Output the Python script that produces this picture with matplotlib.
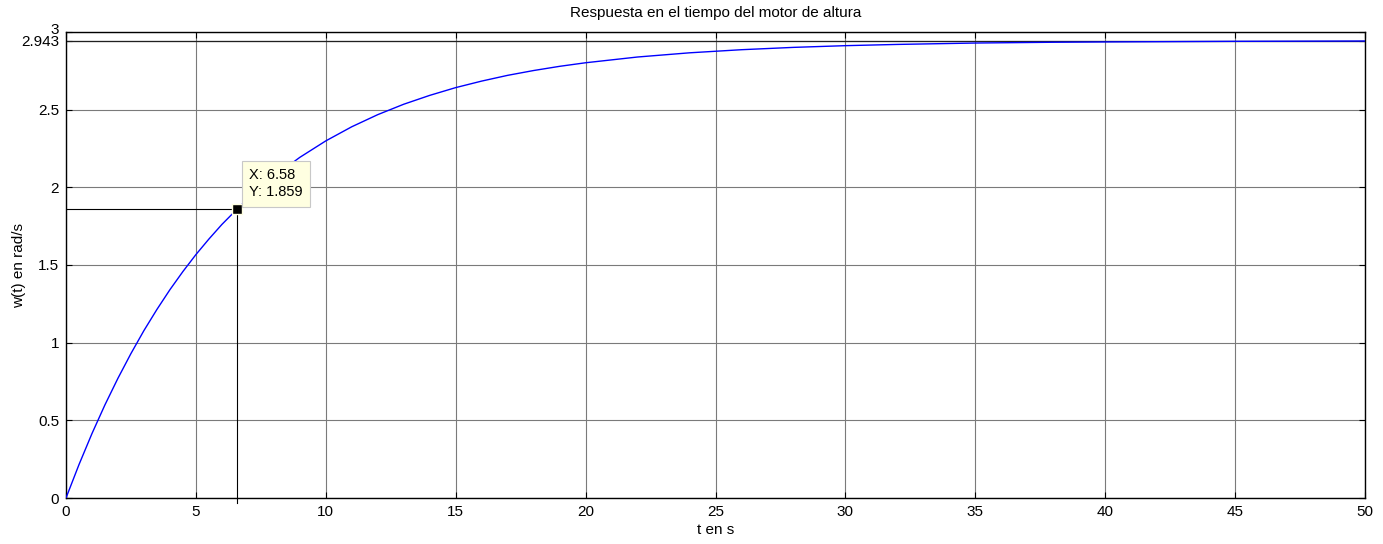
import matplotlib
matplotlib.use('Agg')
import matplotlib.pyplot as plt
import matplotlib.transforms as mtransforms

plt.rcParams['font.family'] = ['Liberation Sans', 'DejaVu Sans']

# respuesta
t = [0, 0.5, 1, 1.5, 2, 2.5, 3, 3.5, 4, 4.5, 5, 5.5, 6, 6.58, 7, 8, 9, 10,
     11, 12, 13, 14, 15, 16, 17, 18, 19, 20, 22, 24, 26, 28, 30, 32, 35,
     38, 40, 45, 50]
w = [0, 0.215, 0.415, 0.600, 0.771, 0.930, 1.078, 1.214, 1.341, 1.458,
     1.567, 1.667, 1.761, 1.859, 1.927, 2.070, 2.193, 2.299, 2.390, 2.468,
     2.535, 2.592, 2.642, 2.684, 2.721, 2.752, 2.779, 2.802, 2.839, 2.866,
     2.886, 2.901, 2.912, 2.920, 2.929, 2.934, 2.936, 2.940, 2.942]

x_ticks = [0, 5, 10, 15, 20, 25, 30, 35, 40, 45, 50]
y_ticks = [0, 0.5, 1, 1.5, 2, 2.5, 2.943, 3]
y_labels = ['0', '0.5', '1', '1.5', '2', '2.5', '2.943', '3']

tip_x = 6.58
tip_y = 1.859

fig = plt.figure(figsize=(13.83, 5.44), dpi=100)
ax = fig.add_axes([66 / 1383, 46 / 544, 1299 / 1383, 466 / 544])

ax.plot(t, w, color='#0000ff', linewidth=1.0, zorder=3)

ax.set_xlim(0, 50)
ax.set_ylim(0, 3)
ax.set_xticks(x_ticks)
ax.set_yticks(y_ticks)
ax.set_yticklabels(y_labels)
ax.grid(True, color='#7a7a7a', linewidth=0.8, linestyle='-')
ax.set_axisbelow(True)
ax.axhline(2.943, color='#202020', linewidth=0.9, zorder=1)

ax.tick_params(direction='in', length=4, width=0.8, top=True, right=True,
               labelsize=11, colors='black')
ax.tick_params(axis='x', pad=5)
ax.tick_params(axis='y', pad=5)
for s in ax.spines.values():
    s.set_linewidth(1.0)
    s.set_color('black')

# el "3" queda un poco mas arriba que "2.943"
lab3 = ax.get_yticklabels()[-1]
lab3.set_transform(lab3.get_transform() +
                   mtransforms.ScaledTranslation(0, 4 / 100, fig.dpi_scale_trans))

ax.set_title('Respuesta en el tiempo del motor de altura', fontsize=11, pad=11)
ax.set_xlabel('t en s', fontsize=11, labelpad=3)
ax.set_ylabel('w(t) en rad/s', fontsize=11)
ax.yaxis.set_label_coords(-0.031, 0.5)

# data tip
ax.plot([0, tip_x], [tip_y, tip_y], color='black', linewidth=0.8, zorder=4)
ax.plot([tip_x, tip_x], [tip_y, -0.03], color='black', linewidth=0.8,
        zorder=4, clip_on=False)
ax.plot([tip_x], [tip_y], marker='s', markersize=7, color='black',
        markeredgecolor='#ffffe1', markeredgewidth=1.0, zorder=5)
ax.annotate('X: 6.58\nY: 1.859', xy=(tip_x, tip_y), xytext=(12, 10),
            textcoords='offset pixels', ha='left', va='bottom', fontsize=10.5,
            linespacing=1.3,
            bbox=dict(boxstyle='square,pad=0.5', fc='#ffffe1', ec='#c8c8c8',
                      linewidth=0.8), zorder=6)

fig.savefig('out.png', dpi=100)
